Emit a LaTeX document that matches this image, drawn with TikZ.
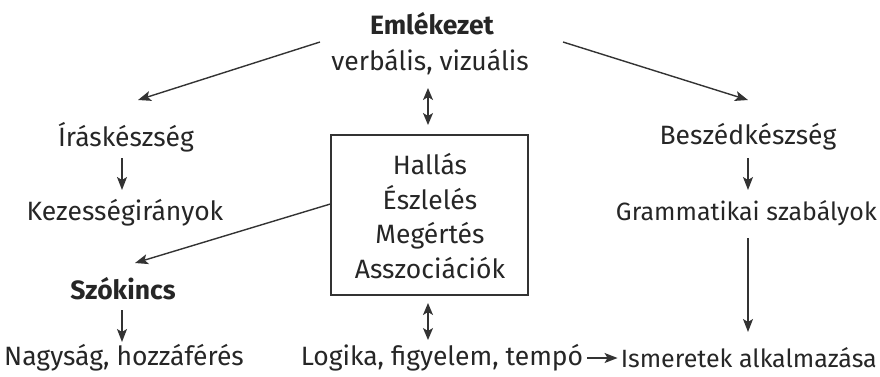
\documentclass[tikz,border=0pt]{standalone}
\usepackage{fontspec}
\setmainfont{Fira Sans}
\usetikzlibrary{arrows.meta}
\begin{document}
\begin{tikzpicture}[x=1pt,y=-1pt,
  lbl/.style={inner sep=1pt,font=\fontsize{26.5}{32}\selectfont,text=black!85},
  rlbl/.style={lbl,anchor=east,font=\fontsize{25}{30}\selectfont},
  blbl/.style={lbl,font=\fontsize{26.5}{32}\selectfont\bfseries},
  arr/.style={-{Stealth[length=13pt,width=10pt,inset=3pt]},line width=1.4pt,black!80},
  darr/.style={{Stealth[length=12pt,width=10pt,inset=3pt]}-{Stealth[length=12pt,width=10pt,inset=3pt]},line width=1.4pt,black!80}]
\useasboundingbox (0,0) rectangle (880,376);
\node[blbl] (emk) at (432,24) {Emlékezet};
\node[lbl] (verb) at (430,62) {verbális, vizuális};
\node[draw,line width=1.3pt,black!80,minimum width=197pt,minimum height=160pt,inner sep=0pt] (box) at (429.5,215) {};
\node[lbl,align=center,font=\fontsize{26.5}{34.5}\selectfont] (boxt) at (430,216) {Hallás\\Észlelés\\Megértés\\Asszociációk};
\node[lbl] (iras) at (126,137) {Íráskészség};
\node[lbl] (kez) at (125,213) {Kezességirányok};
\node[blbl] (szo) at (123,289) {Szókincs};
\node[lbl] (nagy) at (124,358) {Nagyság, hozzáférés};
\node[lbl] (besz) at (748,137) {Beszédkészség};
\node[rlbl] (gram) at (878,213) {Grammatikai szabályok};
\node[lbl] (log) at (442,358) {Logika, figyelem, tempó};
\node[rlbl] (ism) at (878,358) {Ismeretek alkalmazása};
\coordinate (eL) at (320,42);
\coordinate (eR) at (563,42);
\draw[arr] (eL) -- (138,100) coordinate (irasT);
\draw[arr] (eR) -- (748,100) coordinate (beszT);
\draw[darr] (428,88) -- (428,125);
\draw[darr] (428,303) -- (428,340);
\draw[arr] (122,158) -- (122,190);
\draw[arr] (122,310) -- (122,342);
\draw[arr] (748,158) -- (748,190);
\draw[arr] (748,238) -- (748,332);
\draw[arr] (box.west |- 0,204) -- (135,263);
\draw[arr] (log.east) ++(3,0) -- ([xshift=-2pt]ism.west);
\end{tikzpicture}
\end{document}
